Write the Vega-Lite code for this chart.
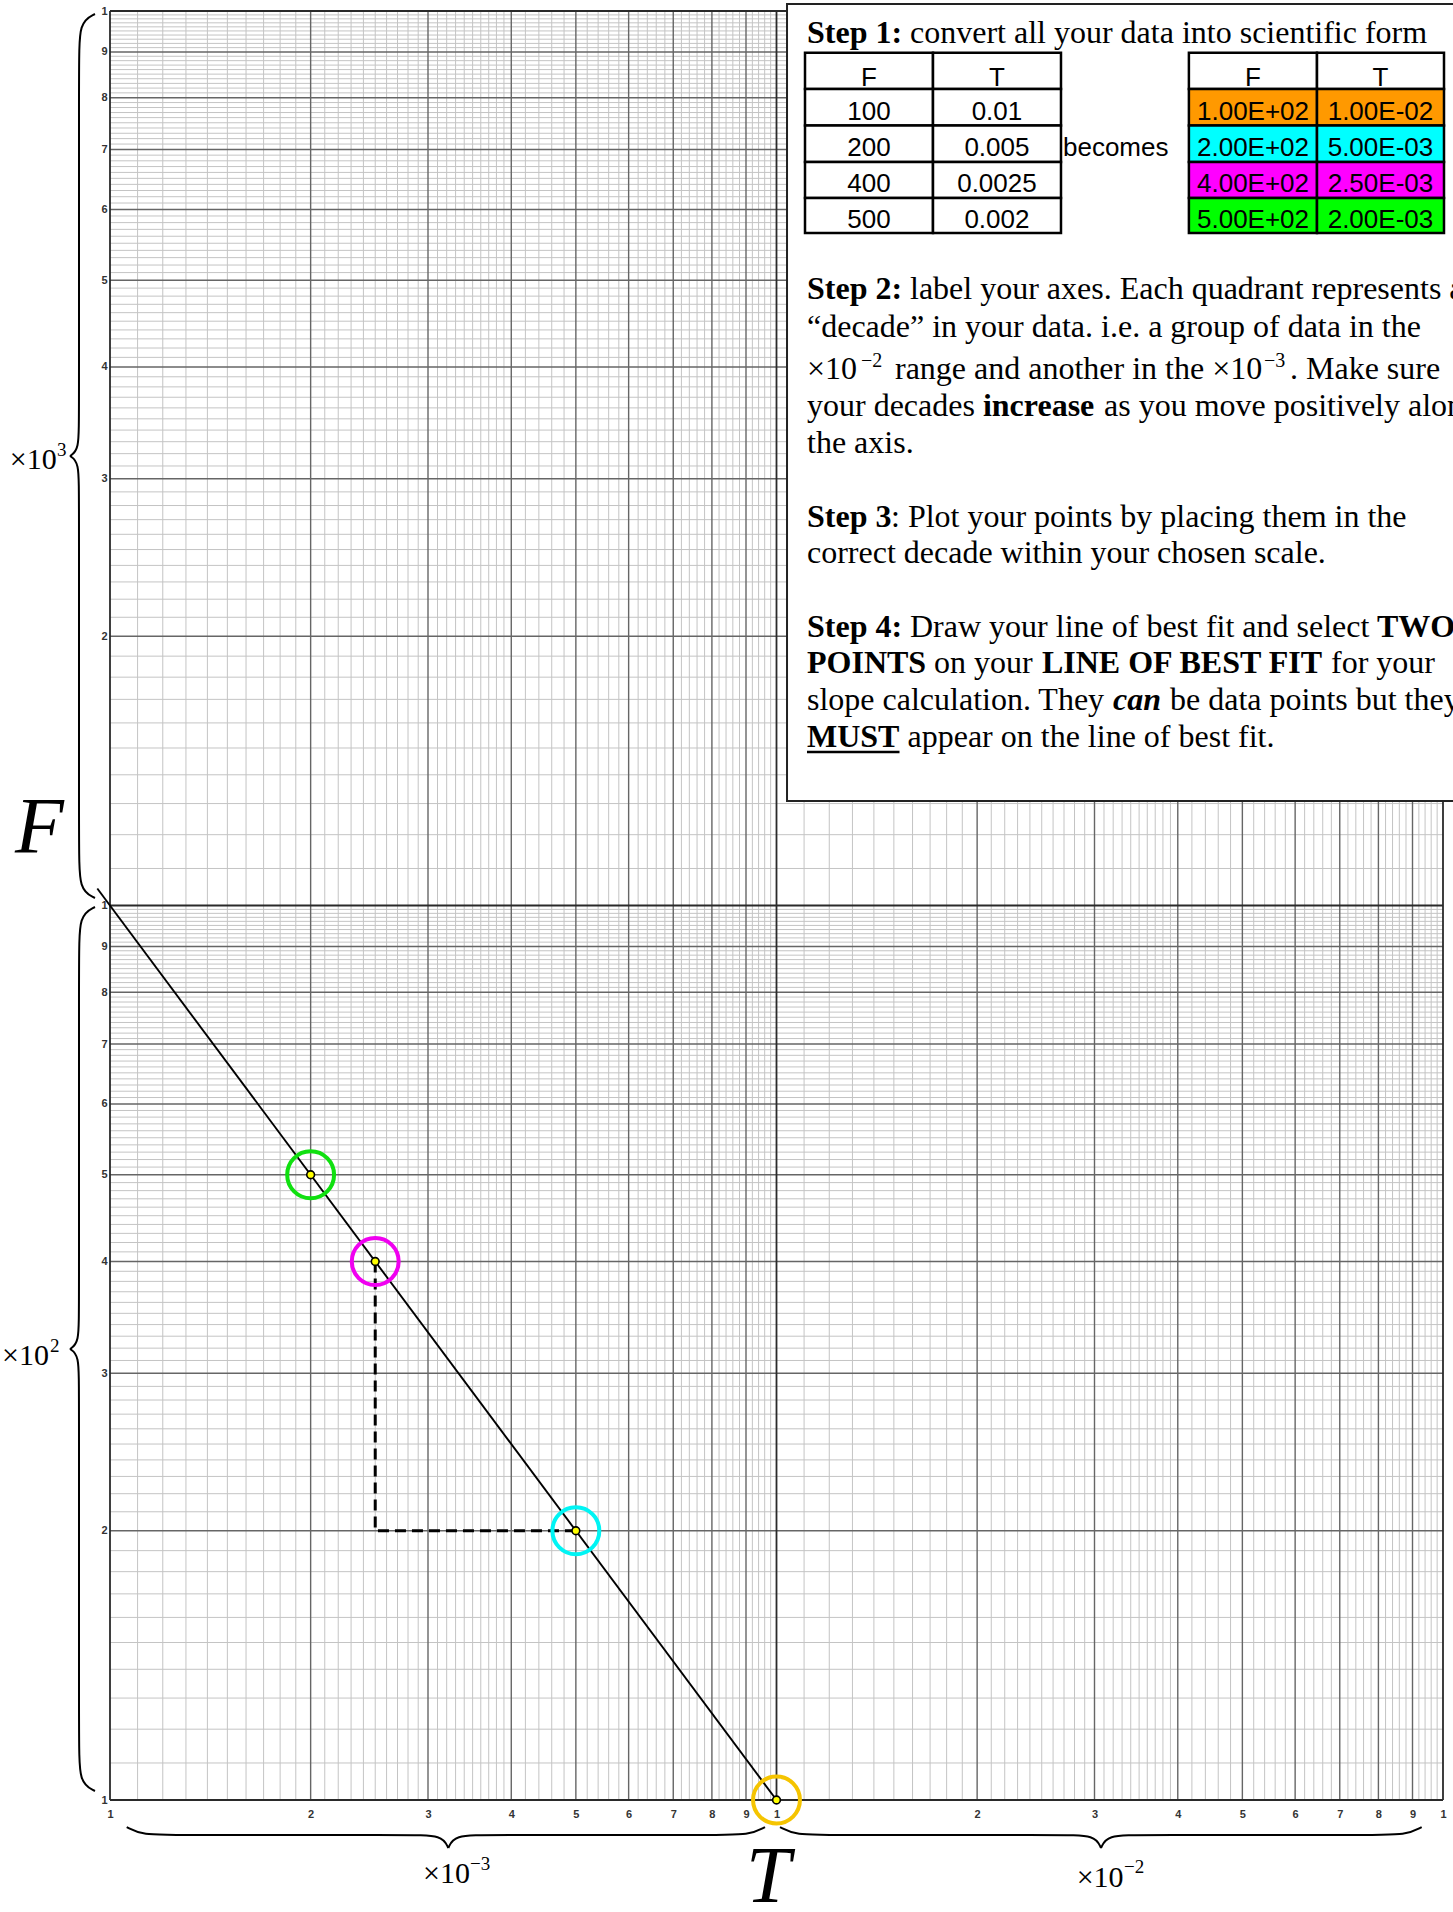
{
"$schema": "https://vega.github.io/schema/vega-lite/v6.json",
"width": 1333, "height": 1789,
"autosize": {"type": "none"},
"padding": {"left": 110, "top": 11, "right": 10, "bottom": 112},
"background": "white",
"config": {"view": {"stroke": null}},
"resolve": {"axis": {"x": "independent", "y": "independent"}},
"datasets": {
"xfine": [0.0011,0.0012,0.0013,0.0014,0.0015,0.0016,0.0017,0.0018,0.0019,0.0021,0.0022,0.0023,0.0024,0.0025,0.0026,0.0027,0.0028,0.0029,0.0031,0.0032,0.0033,0.0034,0.0035,0.0036,0.0037,0.0038,0.0039,0.0042,0.0044,0.0046,0.0048,0.0052,0.0054,0.0056,0.0058,0.0062,0.0064,0.0066,0.0068,0.0072,0.0074,0.0076,0.0078,0.0082,0.0084,0.0086,0.0088,0.0092,0.0094,0.0096,0.0098,0.011,0.012,0.013,0.014,0.015,0.016,0.017,0.018,0.019,0.021,0.022,0.023,0.024,0.025,0.026,0.027,0.028,0.029,0.031,0.032,0.033,0.034,0.035,0.036,0.037,0.038,0.039,0.042,0.044,0.046,0.048,0.052,0.054,0.056,0.058,0.062,0.064,0.066,0.068,0.072,0.074,0.076,0.078,0.082,0.084,0.086,0.088,0.092,0.094,0.096,0.098],
"xint": [0.002,0.003,0.004,0.005,0.006,0.007,0.008,0.009,0.02,0.03,0.04,0.05,0.06,0.07,0.08,0.09],
"xdec": [0.001,0.01,0.1],
"yfine": [110,120,130,140,150,160,170,180,190,210,220,230,240,250,260,270,280,290,310,320,330,340,350,360,370,380,390,410,420,430,440,450,460,470,480,490,510,520,530,540,550,560,570,580,590,610,620,630,640,650,660,670,680,690,710,720,730,740,750,760,770,780,790,810,820,830,840,850,860,870,880,890,910,920,930,940,950,960,970,980,990,1100,1200,1300,1400,1500,1600,1700,1800,1900,2100,2200,2300,2400,2500,2600,2700,2800,2900,3100,3200,3300,3400,3500,3600,3700,3800,3900,4100,4200,4300,4400,4500,4600,4700,4800,4900,5100,5200,5300,5400,5500,5600,5700,5800,5900,6100,6200,6300,6400,6500,6600,6700,6800,6900,7100,7200,7300,7400,7500,7600,7700,7800,7900,8100,8200,8300,8400,8500,8600,8700,8800,8900,9100,9200,9300,9400,9500,9600,9700,9800,9900],
"yint": [200,300,400,500,600,700,800,900,2000,3000,4000,5000,6000,7000,8000,9000],
"ydec": [100,1000,10000],
"pts": [{"T":0.01,"F":100},{"T":0.005,"F":200},{"T":0.0025,"F":400},{"T":0.002,"F":500}],
"fit": [{"T":0.00095708,"F":1044.8},{"T":0.01,"F":100}],
"slope": [{"T":0.0025,"F":400},{"T":0.0025,"F":200},{"T":0.005,"F":200}],
"box": [{"T1":0.01037,"T2":0.13,"F1":10182,"F2":1308.7}],
"cells": [
{"T1":0.011035,"T2":0.017171,"F1":8982,"F2":8181,"Tc":0.013765,"Fc":8244.3,"text":"F","key":"plain"},
{"T1":0.017171,"T2":0.02672,"F1":8982,"F2":8181,"Tc":0.021416,"Fc":8244.3,"text":"T","key":"plain"},
{"T1":0.011035,"T2":0.017171,"F1":8181,"F2":7447,"Tc":0.013765,"Fc":7553.4,"text":"100","key":"plain"},
{"T1":0.017171,"T2":0.02672,"F1":8181,"F2":7447,"Tc":0.021416,"Fc":7553.4,"text":"0.01","key":"plain"},
{"T1":0.011035,"T2":0.017171,"F1":7447,"F2":6779,"Tc":0.013765,"Fc":6884.9,"text":"200","key":"plain"},
{"T1":0.017171,"T2":0.02672,"F1":7447,"F2":6779,"Tc":0.021416,"Fc":6884.9,"text":"0.005","key":"plain"},
{"T1":0.011035,"T2":0.017171,"F1":6779,"F2":6179,"Tc":0.013765,"Fc":6270.7,"text":"400","key":"plain"},
{"T1":0.017171,"T2":0.02672,"F1":6779,"F2":6179,"Tc":0.021416,"Fc":6270.7,"text":"0.0025","key":"plain"},
{"T1":0.011035,"T2":0.017171,"F1":6179,"F2":5647,"Tc":0.013765,"Fc":5724.6,"text":"500","key":"plain"},
{"T1":0.017171,"T2":0.02672,"F1":6179,"F2":5647,"Tc":0.021416,"Fc":5724.6,"text":"0.002","key":"plain"},
{"T1":0.041567,"T2":0.064706,"F1":8982,"F2":8181,"Tc":0.051874,"Fc":8244.3,"text":"F","key":"plain"},
{"T1":0.064706,"T2":0.100346,"F1":8982,"F2":8181,"Tc":0.080566,"Fc":8244.3,"text":"T","key":"plain"},
{"T1":0.041567,"T2":0.064706,"F1":8181,"F2":7447,"Tc":0.051874,"Fc":7553.4,"text":"1.00E+02","key":"100"},
{"T1":0.064706,"T2":0.100346,"F1":8181,"F2":7447,"Tc":0.080566,"Fc":7553.4,"text":"1.00E-02","key":"100"},
{"T1":0.041567,"T2":0.064706,"F1":7447,"F2":6779,"Tc":0.051874,"Fc":6884.9,"text":"2.00E+02","key":"200"},
{"T1":0.064706,"T2":0.100346,"F1":7447,"F2":6779,"Tc":0.080566,"Fc":6884.9,"text":"5.00E-03","key":"200"},
{"T1":0.041567,"T2":0.064706,"F1":6779,"F2":6179,"Tc":0.051874,"Fc":6270.7,"text":"4.00E+02","key":"400"},
{"T1":0.064706,"T2":0.100346,"F1":6779,"F2":6179,"Tc":0.080566,"Fc":6270.7,"text":"2.50E-03","key":"400"},
{"T1":0.041567,"T2":0.064706,"F1":6179,"F2":5647,"Tc":0.051874,"Fc":5724.6,"text":"5.00E+02","key":"500"},
{"T1":0.064706,"T2":0.100346,"F1":6179,"F2":5647,"Tc":0.080566,"Fc":5724.6,"text":"2.00E-03","key":"500"}
],
"underline": [{"T1":0.011111,"T2":0.015295,"F":1484.6}],
"notes": [
{"T":0.011111,"F":9202,"text":"Step 1:","style":"bold"},
{"T":0.01586,"F":9202,"text":"convert all your data into scientific form","style":"regular"},
{"T":0.026905,"F":6884.9,"text":"becomes","style":"sans"},
{"T":0.011111,"F":4761,"text":"Step 2:","style":"bold"},
{"T":0.01586,"F":4761,"text":"label your axes. Each quadrant represents a","style":"regular"},
{"T":0.011111,"F":4324,"text":"“decade” in your data. i.e. a group of data in the","style":"regular"},
{"T":0.011111,"F":3881,"text":"×10","style":"regular"},
{"T":0.013391,"F":4003,"text":"−2","style":"sup"},
{"T":0.015058,"F":3881,"text":"range and another in the ×10","style":"regular"},
{"T":0.053879,"F":4003,"text":"−3","style":"sup"},
{"T":0.058946,"F":3881,"text":". Make sure","style":"regular"},
{"T":0.011111,"F":3526,"text":"your decades","style":"regular"},
{"T":0.020403,"F":3526,"text":"increase","style":"bold"},
{"T":0.031001,"F":3526,"text":"as you move positively along","style":"regular"},
{"T":0.011111,"F":3208,"text":"the axis.","style":"regular"},
{"T":0.011111,"F":2651,"text":"Step 3","style":"bold"},
{"T":0.014852,"F":2651,"text":": Plot your points by placing them in the","style":"regular"},
{"T":0.011111,"F":2417,"text":"correct decade within your chosen scale.","style":"regular"},
{"T":0.011111,"F":1997.6,"text":"Step 4:","style":"bold"},
{"T":0.01586,"F":1997.6,"text":"Draw your line of best fit and select","style":"regular"},
{"T":0.079611,"F":1997.6,"text":"TWO","style":"bold"},
{"T":0.011111,"F":1818,"text":"POINTS","style":"bold"},
{"T":0.017231,"F":1818,"text":"on your","style":"regular"},
{"T":0.025019,"F":1818,"text":"LINE OF BEST FIT","style":"bold"},
{"T":0.067914,"F":1818,"text":"for your","style":"regular"},
{"T":0.011111,"F":1654,"text":"slope calculation. They","style":"regular"},
{"T":0.031981,"F":1654,"text":"can","style":"bolditalic"},
{"T":0.03894,"F":1654,"text":"be data points but they","style":"regular"},
{"T":0.011111,"F":1505,"text":"MUST","style":"bold"},
{"T":0.015724,"F":1505,"text":"appear on the line of best fit.","style":"regular"},
{"T":0.00070737,"F":3076,"text":"×10","style":"mag"},
{"T":0.00083261,"F":3180.6,"text":"3","style":"magsup"},
{"T":0.00068858,"F":306.41,"text":"×10","style":"mag"},
{"T":0.0008127,"F":316.84,"text":"2","style":"magsup"},
{"T":0.0029486,"F":80.693,"text":"×10","style":"mag"},
{"T":0.0034684,"F":83.502,"text":"−3","style":"magsup"},
{"T":0.028211,"F":79.99,"text":"×10","style":"mag"},
{"T":0.033218,"F":82.86,"text":"−2","style":"magsup"},
{"T":0.00072,"F":1144.7,"text":"F","style":"big"},
{"T":0.009,"F":76.948,"text":"T","style":"big"}
],
"braces": [
{"g":"ya1","T":0.00094949,"F":9923.1},{"g":"ya1","T":0.00089843,"F":9720.8},{"g":"ya1","T":0.00089843,"F":8724.1},{"g":"ya1","T":0.00089843,"F":3525.6},{"g":"ya1","T":0.00089843,"F":3230.2},{"g":"ya1","T":0.00087088,"F":3180.6},
{"g":"ya2","T":0.00087088,"F":3180.6},{"g":"ya2","T":0.00089843,"F":3131.9},{"g":"ya2","T":0.00089843,"F":2869.4},{"g":"ya2","T":0.00089843,"F":1159.5},{"g":"ya2","T":0.00089843,"F":1040.7},{"g":"ya2","T":0.00094949,"F":1019.5},
{"g":"yb1","T":0.00094949,"F":996.15},{"g":"yb1","T":0.00089843,"F":975.84},{"g":"yb1","T":0.00089843,"F":875.79},{"g":"yb1","T":0.00089843,"F":353.92},{"g":"yb1","T":0.00089843,"F":324.27},{"g":"yb1","T":0.00087088,"F":319.29},
{"g":"yb2","T":0.00087088,"F":319.29},{"g":"yb2","T":0.00089843,"F":314.4},{"g":"yb2","T":0.00089843,"F":288.05},{"g":"yb2","T":0.00089843,"F":116.4},{"g":"yb2","T":0.00089843,"F":104.47},{"g":"yb2","T":0.00094949,"F":102.34},
{"g":"xa1","T":0.00105938,"F":93.28},{"g":"xa1","T":0.00111576,"F":91.383},{"g":"xa1","T":0.00128108,"F":91.383},{"g":"xa1","T":0.0028026,"F":91.383},{"g":"xa1","T":0.0031519,"F":91.383},{"g":"xa1","T":0.0032179,"F":88.372},
{"g":"xa2","T":0.0032179,"F":88.372},{"g":"xa2","T":0.0032853,"F":91.383},{"g":"xa2","T":0.0036948,"F":91.383},{"g":"xa2","T":0.0079474,"F":91.383},{"g":"xa2","T":0.0091251,"F":91.383},{"g":"xa2","T":0.0096105,"F":93.28},
{"g":"xb1","T":0.0101217,"F":93.28},{"g":"xb1","T":0.0106602,"F":91.383},{"g":"xb1","T":0.0122396,"F":91.383},{"g":"xb1","T":0.02672,"F":91.383},{"g":"xb1","T":0.030063,"F":91.383},{"g":"xb1","T":0.030681,"F":88.372},
{"g":"xb2","T":0.030681,"F":88.372},{"g":"xb2","T":0.031324,"F":91.383},{"g":"xb2","T":0.035228,"F":91.383},{"g":"xb2","T":0.076828,"F":91.383},{"g":"xb2","T":0.088214,"F":91.383},{"g":"xb2","T":0.092906,"F":93.28}
]
},
"layer": [
{"data":{"name":"xfine"},"mark":{"type":"rule","color":"#c4c4c4","strokeWidth":1},"encoding":{"x":{"field":"data","type":"quantitative","scale":{"type":"log","domain":[0.001,0.1],"nice":false},"axis":null}}},
{"data":{"name":"yfine"},"mark":{"type":"rule","color":"#c4c4c4","strokeWidth":1},"encoding":{"y":{"field":"data","type":"quantitative","scale":{"type":"log","domain":[100,10000],"nice":false},"axis":null}}},
{"data":{"name":"xint"},"mark":{"type":"rule","color":"#666666","strokeWidth":1.4},"encoding":{"x":{"field":"data","type":"quantitative","scale":{"type":"log","domain":[0.001,0.1],"nice":false},"axis":null}}},
{"data":{"name":"yint"},"mark":{"type":"rule","color":"#666666","strokeWidth":1.4},"encoding":{"y":{"field":"data","type":"quantitative","scale":{"type":"log","domain":[100,10000],"nice":false},"axis":null}}},
{"data":{"name":"xdec"},"mark":{"type":"rule","color":"#2a2a2a","strokeWidth":1.8},"encoding":{"x":{"field":"data","type":"quantitative","scale":{"type":"log","domain":[0.001,0.1],"nice":false},"axis":{"orient":"bottom","values":[0.001,0.002,0.003,0.004,0.005,0.006,0.007,0.008,0.009,0.01,0.02,0.03,0.04,0.05,0.06,0.07,0.08,0.09,0.1],"labelExpr":"round(datum.value / pow(10, floor(log(datum.value) / LN10 + 0.000001)))","labels":true,"grid":false,"ticks":false,"tickSize":0,"domain":false,"title":null,"zindex":2,"labelFont":"Liberation Sans","labelFontSize":11,"labelFontWeight":"bold","labelColor":"#333333","labelPadding":8,"labelOverlap":false,"labelBound":false,"labelFlush":false,"labelAngle":0}}}},
{"data":{"name":"ydec"},"mark":{"type":"rule","color":"#2a2a2a","strokeWidth":1.8},"encoding":{"y":{"field":"data","type":"quantitative","scale":{"type":"log","domain":[100,10000],"nice":false},"axis":{"orient":"left","values":[100,200,300,400,500,600,700,800,900,1000,2000,3000,4000,5000,6000,7000,8000,9000,10000],"labelExpr":"round(datum.value / pow(10, floor(log(datum.value) / LN10 + 0.000001)))","labels":true,"grid":false,"ticks":false,"tickSize":0,"domain":false,"title":null,"zindex":2,"labelFont":"Liberation Sans","labelFontSize":11,"labelFontWeight":"bold","labelColor":"#333333","labelPadding":3,"labelOverlap":false,"labelBound":false,"labelFlush":false}}}},
{"data":{"name":"slope"},"mark":{"type":"line","color":"black","strokeWidth":3,"strokeDash":[11,6]},"encoding":{"x":{"field":"T","type":"quantitative","scale":{"type":"log","domain":[0.001,0.1],"nice":false},"axis":null},"y":{"field":"F","type":"quantitative","scale":{"type":"log","domain":[100,10000],"nice":false},"axis":null},"order":{"value":null}}},
{"data":{"name":"fit"},"mark":{"type":"line","color":"black","strokeWidth":1.9},"encoding":{"x":{"field":"T","type":"quantitative","scale":{"type":"log","domain":[0.001,0.1],"nice":false},"axis":null},"y":{"field":"F","type":"quantitative","scale":{"type":"log","domain":[100,10000],"nice":false},"axis":null},"order":{"value":null}}},
{"data":{"name":"pts"},"mark":{"type":"point","shape":"circle","filled":false,"size":2200,"strokeWidth":4,"opacity":1},"encoding":{"x":{"field":"T","type":"quantitative","scale":{"type":"log","domain":[0.001,0.1],"nice":false},"axis":null},"y":{"field":"F","type":"quantitative","scale":{"type":"log","domain":[100,10000],"nice":false},"axis":null},"stroke":{"field":"F","type":"nominal","scale":{"domain":[100,200,400,500],"range":["#f5c400","#00f4f4","#f000f0","#10e010"]},"legend":null}}},
{"data":{"name":"pts"},"mark":{"type":"point","shape":"circle","filled":true,"size":60,"fill":"#ffff00","stroke":"black","strokeWidth":1.6,"opacity":1},"encoding":{"x":{"field":"T","type":"quantitative","scale":{"type":"log","domain":[0.001,0.1],"nice":false},"axis":null},"y":{"field":"F","type":"quantitative","scale":{"type":"log","domain":[100,10000],"nice":false},"axis":null}}},
{"data":{"name":"box"},"mark":{"type":"rect","fill":"white","stroke":"#222222","strokeWidth":2},"encoding":{"x":{"field":"T1","type":"quantitative","scale":{"type":"log","domain":[0.001,0.1],"nice":false},"axis":null},"x2":{"field":"T2"},"y":{"field":"F1","type":"quantitative","scale":{"type":"log","domain":[100,10000],"nice":false},"axis":null},"y2":{"field":"F2"}}},
{"data":{"name":"cells"},"mark":{"type":"rect","stroke":"black","strokeWidth":2.5},"encoding":{"x":{"field":"T1","type":"quantitative","scale":{"type":"log","domain":[0.001,0.1],"nice":false},"axis":null},"x2":{"field":"T2"},"y":{"field":"F1","type":"quantitative","scale":{"type":"log","domain":[100,10000],"nice":false},"axis":null},"y2":{"field":"F2"},"fill":{"field":"key","type":"nominal","scale":{"domain":["plain","100","200","400","500"],"range":["#ffffff","#ff9900","#00ffff","#ff00ff","#00ff00"]},"legend":null}}},
{"data":{"name":"cells"},"mark":{"type":"text","font":"Liberation Sans","fontSize":26,"align":"center","baseline":"alphabetic","color":"black"},"encoding":{"x":{"field":"Tc","type":"quantitative","scale":{"type":"log","domain":[0.001,0.1],"nice":false},"axis":null},"y":{"field":"Fc","type":"quantitative","scale":{"type":"log","domain":[100,10000],"nice":false},"axis":null},"text":{"field":"text"}}},
{"data":{"name":"notes"},"transform":[{"filter":"datum.style == 'regular'"}],"mark":{"type":"text","font":"Liberation Serif","fontSize":32,"align":"left","baseline":"alphabetic","color":"black"},"encoding":{"x":{"field":"T","type":"quantitative","scale":{"type":"log","domain":[0.001,0.1],"nice":false},"axis":null},"y":{"field":"F","type":"quantitative","scale":{"type":"log","domain":[100,10000],"nice":false},"axis":null},"text":{"field":"text"}}},
{"data":{"name":"notes"},"transform":[{"filter":"datum.style == 'bold'"}],"mark":{"type":"text","font":"Liberation Serif","fontSize":32,"fontWeight":"bold","align":"left","baseline":"alphabetic","color":"black"},"encoding":{"x":{"field":"T","type":"quantitative","scale":{"type":"log","domain":[0.001,0.1],"nice":false},"axis":null},"y":{"field":"F","type":"quantitative","scale":{"type":"log","domain":[100,10000],"nice":false},"axis":null},"text":{"field":"text"}}},
{"data":{"name":"notes"},"transform":[{"filter":"datum.style == 'bolditalic'"}],"mark":{"type":"text","font":"Liberation Serif","fontSize":32,"fontWeight":"bold","fontStyle":"italic","align":"left","baseline":"alphabetic","color":"black"},"encoding":{"x":{"field":"T","type":"quantitative","scale":{"type":"log","domain":[0.001,0.1],"nice":false},"axis":null},"y":{"field":"F","type":"quantitative","scale":{"type":"log","domain":[100,10000],"nice":false},"axis":null},"text":{"field":"text"}}},
{"data":{"name":"notes"},"transform":[{"filter":"datum.style == 'sup'"}],"mark":{"type":"text","font":"Liberation Serif","fontSize":20,"align":"left","baseline":"alphabetic","color":"black"},"encoding":{"x":{"field":"T","type":"quantitative","scale":{"type":"log","domain":[0.001,0.1],"nice":false},"axis":null},"y":{"field":"F","type":"quantitative","scale":{"type":"log","domain":[100,10000],"nice":false},"axis":null},"text":{"field":"text"}}},
{"data":{"name":"notes"},"transform":[{"filter":"datum.style == 'sans'"}],"mark":{"type":"text","font":"Liberation Sans","fontSize":26,"align":"left","baseline":"alphabetic","color":"black"},"encoding":{"x":{"field":"T","type":"quantitative","scale":{"type":"log","domain":[0.001,0.1],"nice":false},"axis":null},"y":{"field":"F","type":"quantitative","scale":{"type":"log","domain":[100,10000],"nice":false},"axis":null},"text":{"field":"text"}}},
{"data":{"name":"notes"},"transform":[{"filter":"datum.style == 'mag'"}],"mark":{"type":"text","font":"Liberation Serif","fontSize":30,"align":"left","baseline":"alphabetic","color":"black"},"encoding":{"x":{"field":"T","type":"quantitative","scale":{"type":"log","domain":[0.001,0.1],"nice":false},"axis":null},"y":{"field":"F","type":"quantitative","scale":{"type":"log","domain":[100,10000],"nice":false},"axis":null},"text":{"field":"text"}}},
{"data":{"name":"notes"},"transform":[{"filter":"datum.style == 'magsup'"}],"mark":{"type":"text","font":"Liberation Serif","fontSize":19,"align":"left","baseline":"alphabetic","color":"black"},"encoding":{"x":{"field":"T","type":"quantitative","scale":{"type":"log","domain":[0.001,0.1],"nice":false},"axis":null},"y":{"field":"F","type":"quantitative","scale":{"type":"log","domain":[100,10000],"nice":false},"axis":null},"text":{"field":"text"}}},
{"data":{"name":"notes"},"transform":[{"filter":"datum.style == 'big'"}],"mark":{"type":"text","font":"Liberation Serif","fontSize":80,"fontStyle":"italic","align":"left","baseline":"alphabetic","color":"black"},"encoding":{"x":{"field":"T","type":"quantitative","scale":{"type":"log","domain":[0.001,0.1],"nice":false},"axis":null},"y":{"field":"F","type":"quantitative","scale":{"type":"log","domain":[100,10000],"nice":false},"axis":null},"text":{"field":"text"}}},
{"data":{"name":"underline"},"mark":{"type":"rule","color":"black","strokeWidth":2.5},"encoding":{"x":{"field":"T1","type":"quantitative","scale":{"type":"log","domain":[0.001,0.1],"nice":false},"axis":null},"x2":{"field":"T2"},"y":{"field":"F","type":"quantitative","scale":{"type":"log","domain":[100,10000],"nice":false},"axis":null}}},
{"data":{"name":"braces"},"mark":{"type":"line","color":"black","strokeWidth":2,"interpolate":"basis"},"encoding":{"x":{"field":"T","type":"quantitative","scale":{"type":"log","domain":[0.001,0.1],"nice":false},"axis":null},"y":{"field":"F","type":"quantitative","scale":{"type":"log","domain":[100,10000],"nice":false},"axis":null},"detail":{"field":"g","type":"nominal"},"order":{"value":null}}}
]
}
